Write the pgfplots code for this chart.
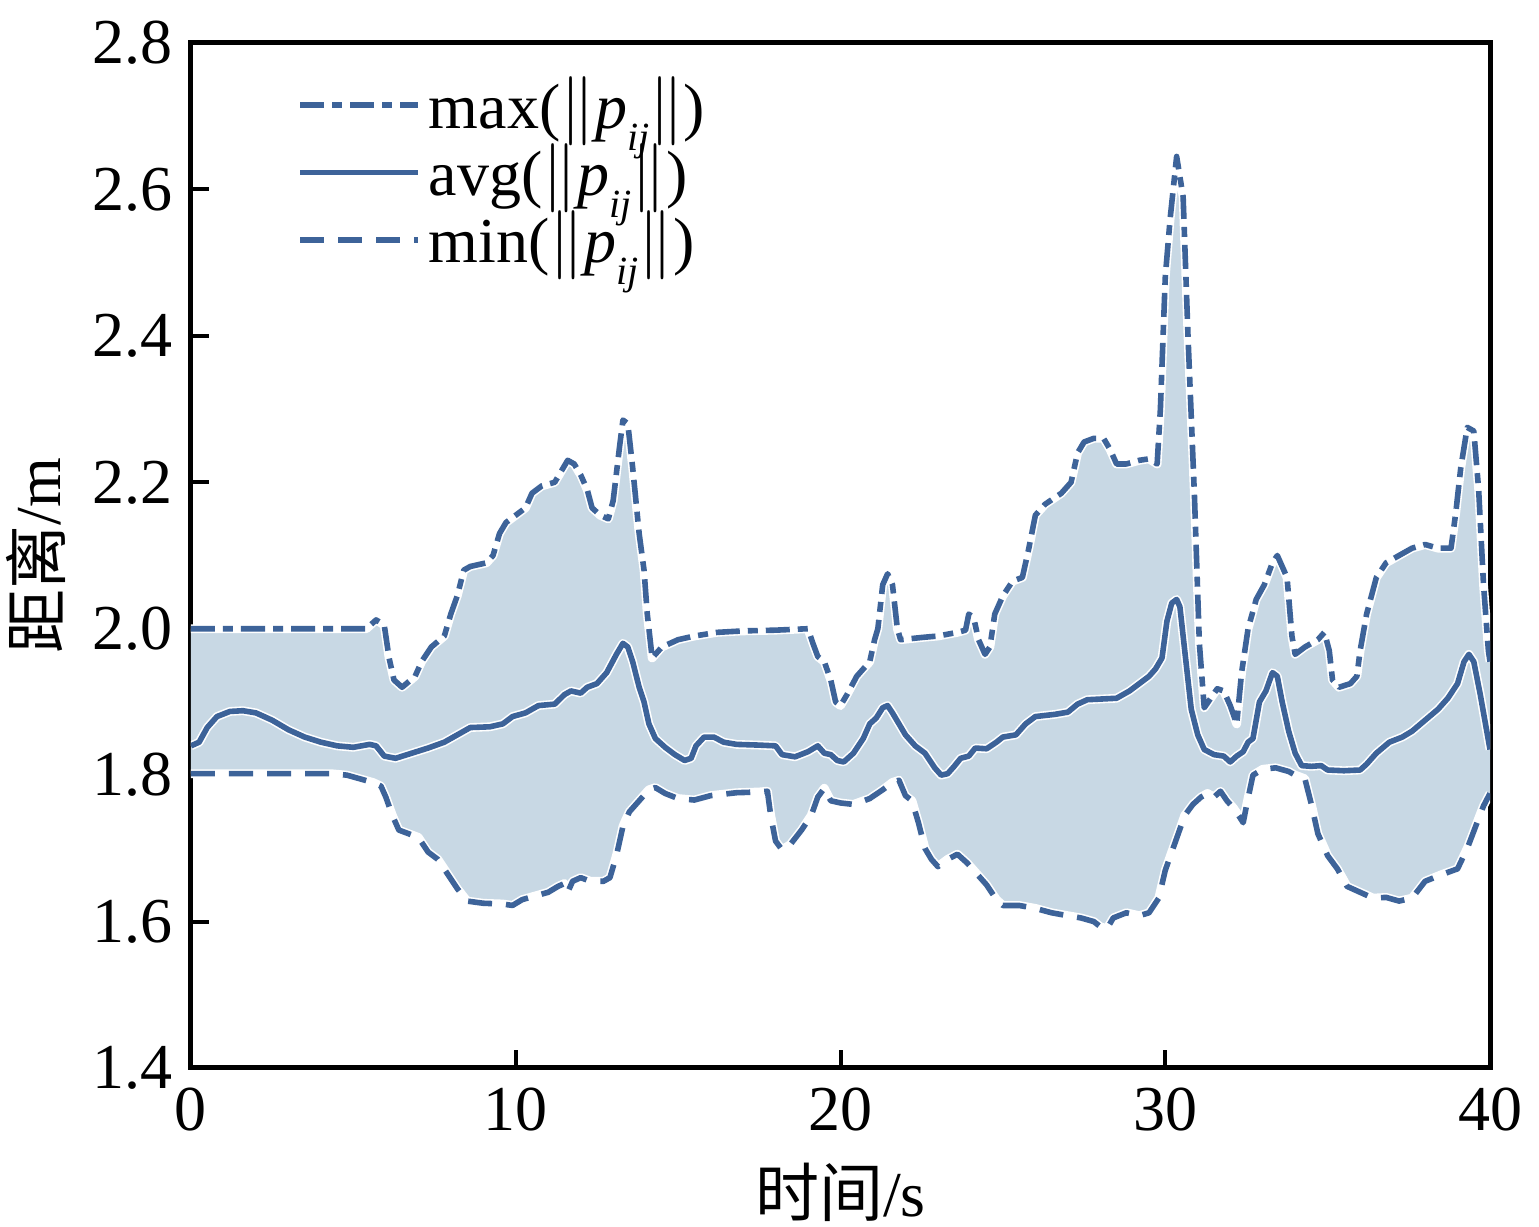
\documentclass[border=0pt]{standalone}
\usepackage{fontspec}
\setmainfont{Liberation Serif}
\newfontfamily\cjk{Noto Sans CJK SC}
\usepackage{pgfplots}
\usepackage{pgfplotstable}
\pgfplotsset{compat=1.18}
\definecolor{lineblue}{RGB}{61,99,153}
\definecolor{fillblue}{RGB}{200,216,228}
\newcommand{\fs}{\fontsize{16}{19}\selectfont}
\newcommand{\pij}{$\|$\textit{p}\smash{\raisebox{-0.75ex}{\fontsize{10}{10}\selectfont\textit{ij}}}$\|$}

\pgfplotstableread{
x y
0 2.000
5.4 2.000
5.7 2.012
5.95 2.005
6.1 1.96
6.25 1.93
6.5 1.92
6.9 1.935
7.1 1.955
7.4 1.975
7.8 1.99
8.0 2.02
8.2 2.045
8.4 2.08
8.6 2.085
9.1 2.09
9.3 2.10
9.5 2.13
9.7 2.145
10.0 2.155
10.3 2.165
10.5 2.185
10.8 2.195
11.2 2.20
11.4 2.215
11.6 2.23
11.8 2.225
12.0 2.21
12.2 2.19
12.35 2.165
12.6 2.155
12.85 2.15
13.0 2.175
13.2 2.25
13.3 2.285
13.45 2.28
13.6 2.22
13.8 2.13
13.95 2.08
14.05 2.02
14.2 1.96
14.5 1.975
15.0 1.985
15.5 1.99
16.2 1.995
17.0 1.997
18.0 1.998
19.0 2.000
19.15 1.98
19.3 1.962
19.5 1.955
19.7 1.93
19.85 1.90
20.0 1.895
20.2 1.91
20.5 1.935
20.9 1.955
21.05 1.985
21.15 2.00
21.3 2.06
21.45 2.075
21.6 2.06
21.75 2.00
21.85 1.985
22.5 1.988
23.0 1.99
23.6 1.995
23.85 1.998
23.95 2.02
24.1 2.015
24.25 1.985
24.45 1.965
24.6 1.975
24.75 2.02
25.0 2.045
25.3 2.065
25.6 2.07
25.8 2.11
26.0 2.155
26.3 2.17
26.8 2.185
27.1 2.2
27.3 2.24
27.5 2.255
27.8 2.26
28.1 2.26
28.3 2.245
28.5 2.225
28.8 2.225
29.2 2.23
29.5 2.232
29.75 2.225
29.85 2.30
30.0 2.48
30.15 2.56
30.35 2.645
30.55 2.59
30.7 2.40
30.9 2.18
31.05 1.98
31.2 1.892
31.4 1.905
31.6 1.918
31.8 1.915
32.0 1.895
32.2 1.87
32.35 1.94
32.55 2.00
32.8 2.04
33.05 2.06
33.3 2.09
33.45 2.10
33.6 2.085
33.75 2.07
33.9 1.99
34.0 1.965
34.3 1.975
34.7 1.985
34.9 1.995
35.05 1.97
35.15 1.93
35.35 1.92
35.7 1.925
35.9 1.935
36.0 1.97
36.2 2.02
36.5 2.07
36.8 2.09
37.2 2.10
37.6 2.11
38.0 2.115
38.4 2.11
38.8 2.11
38.95 2.16
39.1 2.22
39.3 2.275
39.5 2.27
39.65 2.19
39.8 2.06
39.95 1.97
40.0 1.955
}\maxtable

\pgfplotstableread{
x y
0 1.840
0.25 1.845
0.5 1.865
0.8 1.880
1.2 1.887
1.6 1.888
2.0 1.885
2.5 1.875
3.0 1.862
3.5 1.852
4.0 1.845
4.5 1.840
5.0 1.838
5.5 1.842
5.7 1.840
5.95 1.826
6.3 1.823
6.8 1.83
7.3 1.837
7.8 1.845
8.2 1.855
8.6 1.865
9.2 1.866
9.6 1.87
9.9 1.88
10.3 1.885
10.7 1.895
11.2 1.897
11.5 1.91
11.7 1.915
12.0 1.912
12.2 1.92
12.5 1.925
12.8 1.94
13.1 1.965
13.3 1.98
13.45 1.975
13.6 1.955
13.8 1.92
13.95 1.90
14.1 1.87
14.3 1.85
14.6 1.838
14.9 1.828
15.2 1.820
15.4 1.823
15.55 1.840
15.8 1.852
16.1 1.852
16.4 1.845
16.8 1.842
17.5 1.841
18.0 1.840
18.2 1.828
18.6 1.825
19.0 1.832
19.3 1.840
19.5 1.83
19.7 1.828
19.9 1.820
20.1 1.818
20.4 1.83
20.7 1.85
20.9 1.87
21.1 1.878
21.3 1.892
21.45 1.895
21.6 1.885
21.8 1.87
22.0 1.855
22.3 1.84
22.6 1.83
22.9 1.81
23.1 1.80
23.3 1.802
23.5 1.812
23.7 1.823
23.95 1.826
24.15 1.837
24.5 1.836
24.8 1.845
25.0 1.852
25.4 1.855
25.7 1.87
26.0 1.88
26.6 1.883
27.0 1.886
27.3 1.897
27.6 1.903
28.5 1.905
28.9 1.915
29.2 1.925
29.5 1.935
29.7 1.945
29.9 1.96
30.05 2.01
30.2 2.035
30.35 2.04
30.45 2.03
30.65 1.95
30.8 1.89
31.0 1.855
31.2 1.835
31.5 1.828
31.8 1.826
32.0 1.818
32.2 1.826
32.4 1.832
32.55 1.845
32.7 1.85
32.9 1.90
33.1 1.915
33.3 1.94
33.45 1.935
33.6 1.90
33.8 1.86
34.0 1.83
34.2 1.813
34.5 1.812
34.8 1.813
35.0 1.807
35.5 1.806
36.0 1.807
36.2 1.815
36.5 1.83
36.9 1.845
37.3 1.852
37.6 1.86
38.0 1.875
38.4 1.89
38.7 1.905
39.0 1.925
39.2 1.955
39.35 1.965
39.5 1.955
39.7 1.91
39.9 1.86
40.0 1.835
}\avgtable

\pgfplotstableread{
x y
0 1.802
4.3 1.802
4.8 1.80
5.2 1.795
5.6 1.79
5.85 1.785
6.0 1.77
6.2 1.745
6.4 1.725
6.7 1.72
7.0 1.715
7.3 1.695
7.6 1.685
7.9 1.665
8.2 1.645
8.5 1.628
9.0 1.625
9.6 1.624
9.9 1.622
10.2 1.63
10.6 1.635
11.0 1.64
11.3 1.648
11.5 1.652
11.6 1.64
11.75 1.655
12.0 1.66
12.3 1.655
12.7 1.655
12.9 1.66
13.1 1.69
13.3 1.73
13.5 1.75
13.8 1.765
14.1 1.78
14.3 1.783
14.6 1.775
15.0 1.768
15.5 1.766
16.0 1.772
16.8 1.776
17.5 1.777
17.75 1.778
17.85 1.745
18.0 1.71
18.2 1.698
18.45 1.705
18.8 1.725
19.1 1.745
19.3 1.77
19.5 1.782
19.7 1.765
20.0 1.762
20.4 1.760
20.9 1.768
21.3 1.78
21.6 1.79
21.8 1.793
22.0 1.772
22.2 1.765
22.4 1.735
22.6 1.70
22.8 1.685
23.0 1.675
23.3 1.685
23.6 1.692
23.9 1.68
24.2 1.665
24.5 1.65
24.8 1.63
25.0 1.622
25.5 1.622
26.0 1.618
26.5 1.612
27.0 1.608
27.4 1.605
27.8 1.60
28.0 1.593
28.2 1.59
28.4 1.605
28.8 1.612
29.2 1.608
29.5 1.612
29.8 1.632
30.0 1.67
30.2 1.695
30.4 1.72
30.6 1.745
30.85 1.76
31.1 1.77
31.3 1.775
31.5 1.77
31.7 1.778
31.9 1.765
32.1 1.755
32.3 1.742
32.4 1.735
32.5 1.758
32.7 1.80
33.0 1.808
33.4 1.81
33.8 1.805
34.0 1.800
34.3 1.795
34.5 1.76
34.7 1.72
35.0 1.69
35.3 1.672
35.6 1.648
36.0 1.64
36.4 1.632
36.8 1.633
37.2 1.628
37.6 1.632
38.0 1.655
38.5 1.664
39.0 1.672
39.3 1.70
39.6 1.735
39.8 1.758
40.0 1.775
}\mintable

% band polygon: max forward, min backward
\pgfplotstablesort[sort key=x, sort cmp=float >]{\minrev}{\mintable}
\pgfplotstablevertcat{\bandtable}{\maxtable}
\pgfplotstablevertcat{\bandtable}{\minrev}

\begin{document}
\begin{tikzpicture}
\begin{axis}[
  name=ax,
  scale only axis,
  width=324.75pt, height=256.25pt,
  xmin=0, xmax=40, ymin=1.4, ymax=2.8,
  xtick={0,10,20,30,40},
  ytick={1.4,1.6,1.8,2.0,2.2,2.4,2.6,2.8},
  yticklabel style={xshift=-1pt,/pgf/number format/fixed,/pgf/number format/fixed zerofill,/pgf/number format/precision=1},
  xticklabel style={yshift=-1.5pt},
  /pgf/number format/assume math mode=true,
  tick label style={font=\fs},
  label style={font=\fs},
  xlabel style={yshift=-1pt},
  tick pos=left,
  tick align=inside,
  major tick length=4.5pt,
  every tick/.style={black, line width=1pt},
  axis line style={black, line width=1.25pt},
  xlabel={{\cjk 时间}/s},
  ylabel={{\cjk 距离}/m},
  legend style={draw=none, fill=none, font=\fs, at={(0.072,0.984)}, anchor=north west, row sep=-1.6pt},
  legend cell align=left,
  legend image code/.code={\draw[#1] (0pt,0pt) -- (29.5pt,0pt);},
  every axis plot/.append style={line join=round},
]
\addplot[fill=fillblue, draw=none, forget plot] table[x=x,y=y] {\bandtable};
\addplot[white, line width=2.2pt, line join=round, forget plot] table[x=x,y=y] {\maxtable};
\addplot[white, line width=2.2pt, line join=round, forget plot] table[x=x,y=y] {\avgtable};
\addplot[white, line width=2.2pt, line join=round, forget plot] table[x=x,y=y] {\mintable};
\addplot[lineblue, line width=1.4pt, line join=round, dash pattern=on 6pt off 2pt on 2.5pt off 2pt] table[x=x,y=y] {\maxtable};
\addlegendentry{max(\pij)}
\addplot[lineblue, line width=1.4pt, line join=round] table[x=x,y=y] {\avgtable};
\addlegendentry{avg(\pij)}
\addplot[lineblue, line width=1.4pt, line join=round, dash pattern=on 6pt off 3.5pt] table[x=x,y=y] {\mintable};
\addlegendentry{min(\pij)}
\end{axis}
\pgfresetboundingbox
\path ([xshift=-47.75pt,yshift=-39.75pt]ax.south west) rectangle ([xshift=12.25pt,yshift=10.75pt]ax.north east);
\end{tikzpicture}
\end{document}
